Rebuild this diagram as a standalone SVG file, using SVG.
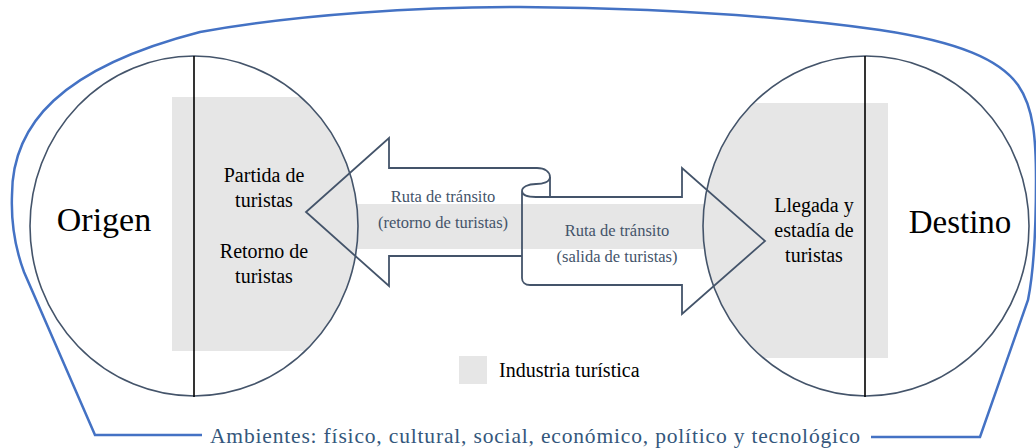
<svg xmlns="http://www.w3.org/2000/svg" width="1036" height="448" viewBox="0 0 1036 448">
<style>
.gray{fill:#e6e6e6;stroke:none}
.circ{fill:none;stroke:#44546a;stroke-width:1.6}
.div{stroke:#000;stroke-width:1.6}
.arrow{fill:none;stroke:#44546a;stroke-width:1.8;stroke-linejoin:miter}
text{font-family:'Liberation Serif',Tinos,'DejaVu Serif','Times New Roman',Times,serif}
.t{fill:#000;text-anchor:middle}
.r{fill:#44546a;text-anchor:middle;font-size:16.5px}
.env{fill:none;stroke:#4472c4;stroke-width:2.5}
</style>
<defs>
<clipPath id="cl"><ellipse cx="194" cy="226" rx="164" ry="170"/></clipPath>
<clipPath id="cr"><ellipse cx="866" cy="226" rx="163" ry="170"/></clipPath>
</defs>
<rect width="1036" height="448" fill="#fff"/>
<g id="environment">
<path class="env" d="M 202,435 L 95,435 L 24,272 C 14,245 11,220 12,195 C 12,125 60,68 200,32 C 300,14 420,7 520,7 C 650,8 780,16 880,30 C 960,42 1000,60 1018,85 C 1034,108 1036,140 1036,180 C 1036,230 1034,270 1028,300 L 980,437 L 871,437"/>
<text x="535" y="443" font-size="21.5" fill="#34577c" text-anchor="middle" textLength="650" lengthAdjust="spacing">Ambientes: físico, cultural, social, económico, político y tecnológico</text>
</g>
<g id="band">
<rect class="gray" x="340" y="204" width="380" height="45"/>
</g>
<g id="origen">
<rect class="gray" x="172" y="97" width="200" height="254" clip-path="url(#cl)"/>
<ellipse class="circ" cx="194" cy="226" rx="164" ry="170"/>
<line class="div" x1="194" y1="56" x2="194" y2="397"/>
<text class="t" x="104" y="231" font-size="34">Origen</text>
<text class="t" x="264" y="182" font-size="20">Partida de</text>
<text class="t" x="264" y="207" font-size="20">turistas</text>
<text class="t" x="264" y="258" font-size="20">Retorno de</text>
<text class="t" x="264" y="283" font-size="20">turistas</text>
</g>
<g id="destino">
<rect class="gray" x="690" y="103" width="198" height="255" clip-path="url(#cr)"/>
<ellipse class="circ" cx="866" cy="226" rx="163" ry="170"/>
<line class="div" x1="865" y1="56" x2="865" y2="397"/>
<text class="t" x="960" y="233" font-size="33">Destino</text>
<text class="t" x="814" y="212" font-size="20">Llegada y</text>
<text class="t" x="814" y="237" font-size="20">estadía de</text>
<text class="t" x="814" y="262" font-size="20">turistas</text>
</g>
<g id="connectors">
<path class="arrow" d="M 522,256 L 389,256 L 389,286 L 306,212 L 389,138 L 389,168 L 537,168 C 545,168 550,172 550,177 L 550,197"/>
<path class="arrow" d="M 550,177 C 550,182 543,184 536,184 C 528,184 522,187 522,191 C 522,195 528,197 536,197 L 682,197 L 682,168 L 765,241 L 682,314 L 682,285 L 530,285 C 525,285 522,282 522,278 L 522,191"/>
<text class="r" x="443" y="202">Ruta de tránsito</text>
<text class="r" x="443" y="228">(retorno de turistas)</text>
<text class="r" x="617" y="236">Ruta de tránsito</text>
<text class="r" x="617" y="262">(salida de turistas)</text>
</g>
<g id="legend">
<rect class="gray" x="459" y="356" width="28" height="28"/>
<text x="499" y="377" font-size="20" fill="#000">Industria turística</text>
</g>
</svg>
